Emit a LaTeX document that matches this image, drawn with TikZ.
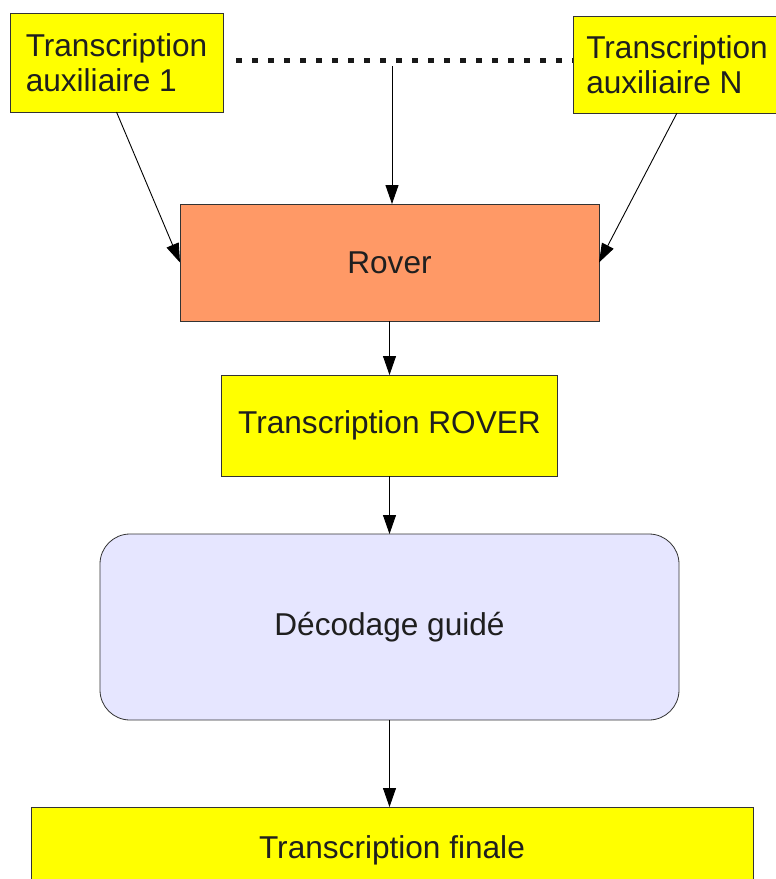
\documentclass[tikz,border=0pt]{standalone}
\usepackage{fontspec}
\setmainfont{Liberation Sans}
\usetikzlibrary{arrows.meta,positioning}

\definecolor{boxyellow}{RGB}{255,255,0}
\definecolor{roverorange}{RGB}{255,153,102}
\definecolor{guidelilac}{RGB}{230,230,255}

\begin{document}
\begin{tikzpicture}[
    x=1pt, y=-1pt,
    box/.style={rectangle, draw=black!80, line width=0.8pt, fill=boxyellow, inner sep=0pt, outer sep=0pt,
      text=black!88, font=\fontsize{31.6}{35}\selectfont},
    arrow/.style={-{Triangle[length=19pt,width=13pt]}, line width=0.9pt, black},
    dotline/.style={line width=5pt, black!90, dash pattern=on 6pt off 10pt}
  ]
    \useasboundingbox (0,0) rectangle (776,879);

    \node[box, minimum width=213pt, minimum height=99pt, align=left] (aux1) at (116.5,62.5) {Transcription\\auxiliaire 1};
    \node[box, minimum width=208pt, minimum height=97pt, align=left] (auxN) at (677,64.5) {Transcription\\auxiliaire N};

    \node[box, fill=roverorange, minimum width=419pt, minimum height=117pt] (rover) at (389.5,262.5) {Rover};
    \node[box, below=54pt of rover, minimum width=336pt, minimum height=101pt] (trover) {Transcription ROVER};
    \node[box, below=58pt of trover, fill=guidelilac, rounded corners=30pt,
      minimum width=579pt, minimum height=186pt] (guide) {Décodage guidé};
    \node[box, below=87pt of guide, xshift=2.5pt, minimum width=722pt, minimum height=87pt] (final) {Transcription finale};

    % dotted link between the auxiliary transcriptions
    \coordinate (dotL) at (236,60);
    \coordinate (dotR) at (573,60);
    \coordinate (dotM) at (392,66);
    \draw[dotline] (dotL) -- (dotR);

    \draw[arrow] (aux1.south) -- (rover.west);
    \draw[arrow] (auxN.south) -- (rover.east);
    \draw[arrow] (dotM) -- (dotM |- rover.north);
    \draw[arrow] (rover.south) -- (trover.north);
    \draw[arrow] (trover.south) -- (guide.north);
    \draw[arrow] (guide.south) -- (guide.south |- final.north);
  \end{tikzpicture}
\end{document}
